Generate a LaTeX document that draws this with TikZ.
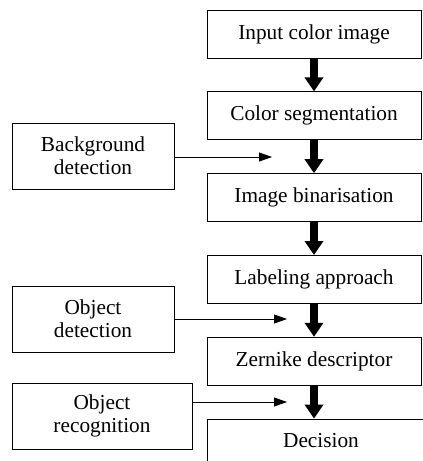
\documentclass[tikz,border=0pt]{standalone}
\usepackage{fontspec}
\setmainfont{Liberation Serif}
\usetikzlibrary{positioning}
\usetikzlibrary{arrows.meta}

\begin{document}
\begin{tikzpicture}[x=1pt, y=-1pt, node distance=33pt]
\tikzstyle{block}=[draw=black, line width=0.8pt, minimum width=214pt, minimum height=48pt, inner sep=0pt, font=\fontsize{21.3}{23}\selectfont]
\tikzstyle{side}=[draw=black, line width=0.8pt, minimum height=66pt, inner sep=0pt, align=center, font=\fontsize{21.3}{23}\selectfont]
\tikzstyle{flow}=[line width=8pt, -{Triangle[width=18pt,length=14pt]}]
\tikzstyle{feed}=[line width=0.8pt, -{Triangle[width=9pt,length=13pt]}]
\useasboundingbox (0,0) rectangle (423,461);
\clip (0,0) rectangle (423,461);
\node[block]    (1) at (314,34)         {Input color image};
\node[block]    (2)[below=of 1]         {Color segmentation};
\node[block]    (3)[below=of 2]         {Image binarisation};
\node[block]    (4)[below=of 3]         {Labeling approach};
\node[block]    (5)[below=of 4]         {Zernike descriptor};
\node[block, minimum width=228pt, minimum height=44pt]    (6)[below=of 5, xshift=7pt]   {Decision};
\node[side, minimum width=162pt]  (bg) at (93,156)  {Background\\detection};
\node[side, minimum width=162pt]  (od) at (93,319)  {Object\\detection};
\node[side, minimum width=180pt]  (or) at (102,416) {Object\\recognition};
\coordinate (t1) at (272,157);
\coordinate (t2) at (287,319);
\coordinate (t3) at (287,402);
% main flow
\draw[flow] (1) -- (2);
\draw[flow] (2) -- (3);
\draw[flow] (3) -- (4);
\draw[flow] (4) -- (5);
\draw[flow] (5.south) -- (5.south |- 6.north);
% side inputs
\draw[feed] (bg.east |- t1) -- (t1);
\draw[feed] (od.east |- t2) -- (t2);
\draw[feed] (or.east |- t3) -- (t3);
\end{tikzpicture}
\end{document}
